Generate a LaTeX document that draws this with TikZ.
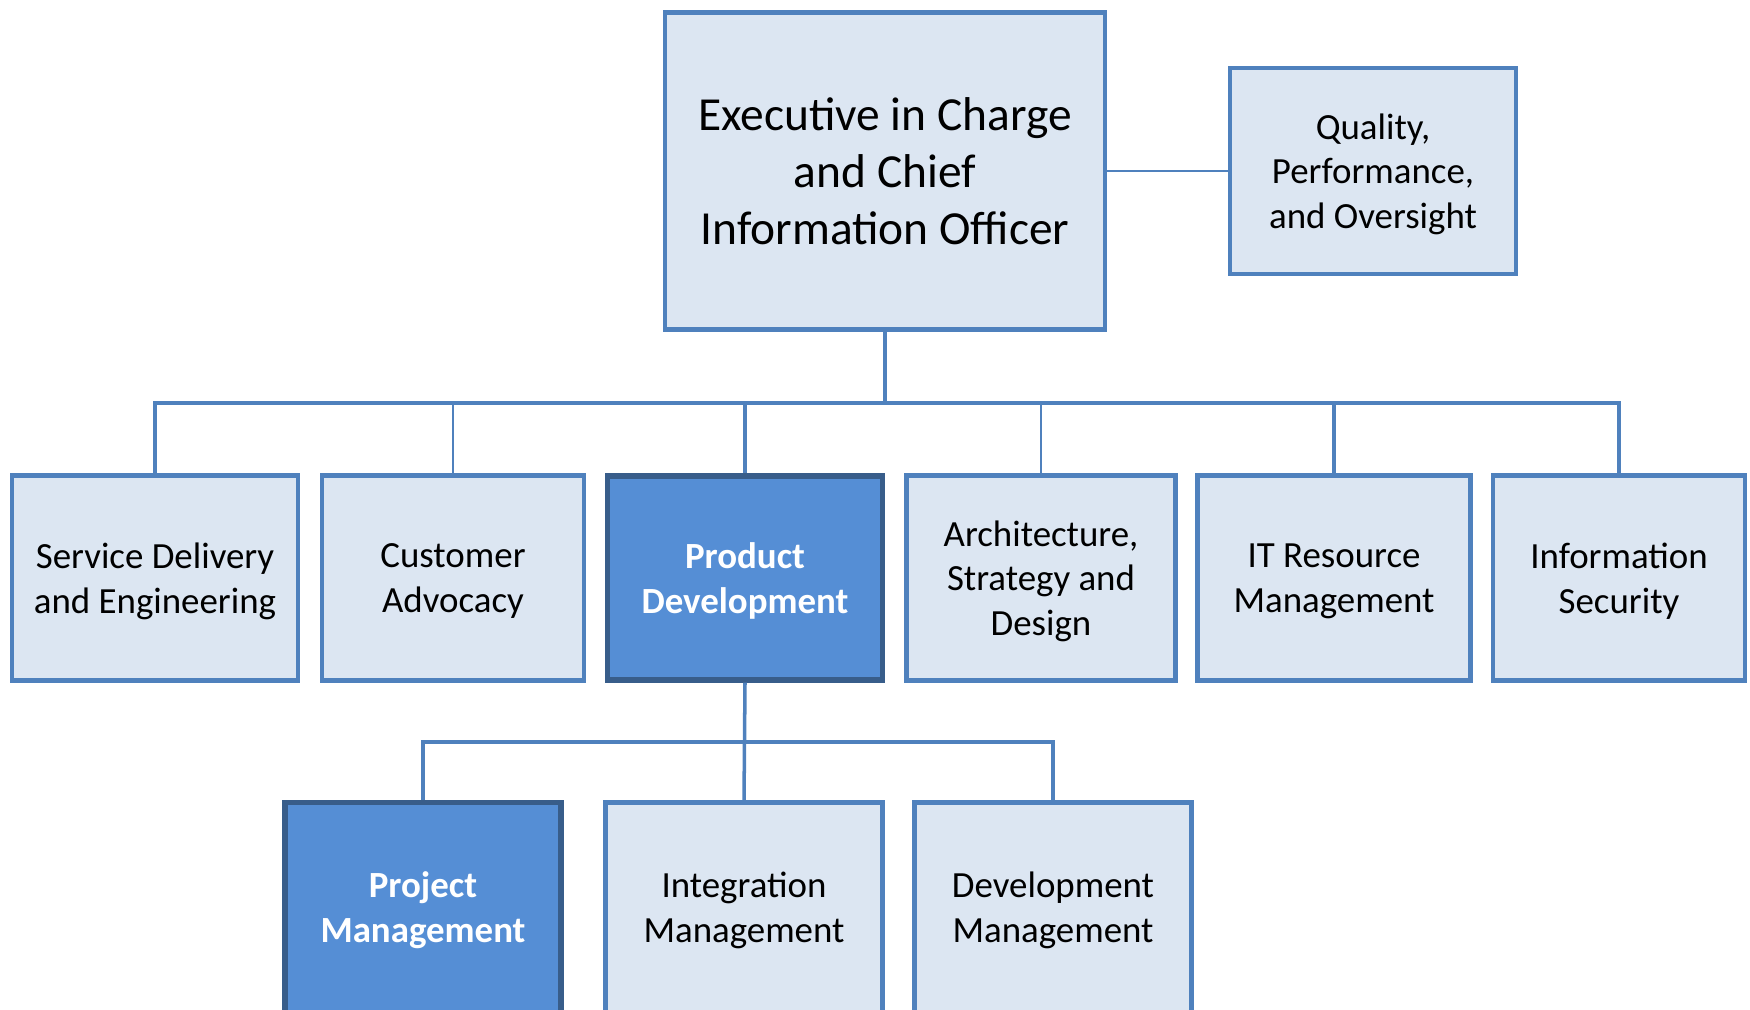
\documentclass[tikz,border=0pt]{standalone}
\usepackage{fontspec}
\setmainfont{Carlito}
\usepackage{xcolor}
\usepackage{tikz}
\definecolor{paleblue}{HTML}{DCE6F2}
\definecolor{edgeblue}{HTML}{4F81BD}
\definecolor{midblue}{HTML}{558ED5}
\definecolor{deepblue}{HTML}{385D8A}

\begin{document}
\begin{tikzpicture}[x=0.02cm,y=-0.02cm,
				lite/.style={draw=edgeblue,fill=paleblue,line width=2.5pt,align=center,
					inner sep=0pt,font=\fontsize{21}{25.5}\selectfont},
				dark/.style={lite,draw=deepblue,fill=midblue,line width=3pt,text=white,
					font=\fontsize{21}{25.5}\selectfont\bfseries},
				low/.style={text depth=0pt},
				wire/.style={draw=edgeblue,line width=2pt},
				thin/.style={draw=edgeblue,line width=1.3pt}]
				\useasboundingbox (0,0) rectangle (1750,1009);
				% top row
				\node[lite,minimum width=8.8cm,minimum height=6.34cm,
					font=\fontsize{27}{32.3}\selectfont] (exec) at (885,171)
					{Executive in Charge\\and Chief\\Information Officer};
				\node[lite,low,minimum width=5.72cm,minimum height=4.12cm] (qpo) at (1373,171)
					{Quality,\\Performance,\\and Oversight};
				% second row
				\node[lite,low,minimum width=5.72cm,minimum height=4.1cm] (sde) at (155,578)
					{Service Delivery\\and Engineering};
				\node[lite,low,minimum width=5.24cm,minimum height=4.1cm] (ca) at (453,578)
					{Customer\\Advocacy};
				\node[dark,low,minimum width=5.5cm,minimum height=4.08cm] (pd) at (745,578)
					{Product\\Development};
				\node[lite,low,minimum width=5.38cm,minimum height=4.1cm] (asd) at (1041,578)
					{Architecture,\\Strategy and\\Design};
				\node[lite,low,minimum width=5.46cm,minimum height=4.1cm] (itrm) at (1334,578)
					{IT Resource\\Management};
				\node[lite,low,minimum width=5.04cm,minimum height=4.1cm] (is) at (1619,578)
					{Information\\Security};
				% third row
				\node[dark,minimum width=5.52cm,minimum height=4.3cm] (pm) at (423,910)
					{Project\\Management};
				\node[lite,minimum width=5.54cm,minimum height=4.3cm] (im) at (744,910)
					{Integration\\Management};
				\node[lite,minimum width=5.54cm,minimum height=4.3cm] (dm) at (1053,910)
					{Development\\Management};
				% connectors
				\coordinate (bus) at (885,403);
				\coordinate (bus2) at (744,742);
				\draw[thin] (exec) -- (qpo);
				\draw[wire] (exec.south) -- (bus);
				\draw[wire] (sde.north) |- (bus) -| (is.north);
				\draw[thin] (ca.north) -- (ca.north |- bus);
				\draw[wire] (pd.north) -- (pd.north |- bus);
				\draw[thin] (asd.north) -- (asd.north |- bus);
				\draw[wire] (itrm.north) -- (itrm.north |- bus);
				\draw[wire] (pd.south) -- (im.north);
				\draw[wire] (pm.north) |- (bus2) -| (dm.north);
			\end{tikzpicture}
\end{document}
